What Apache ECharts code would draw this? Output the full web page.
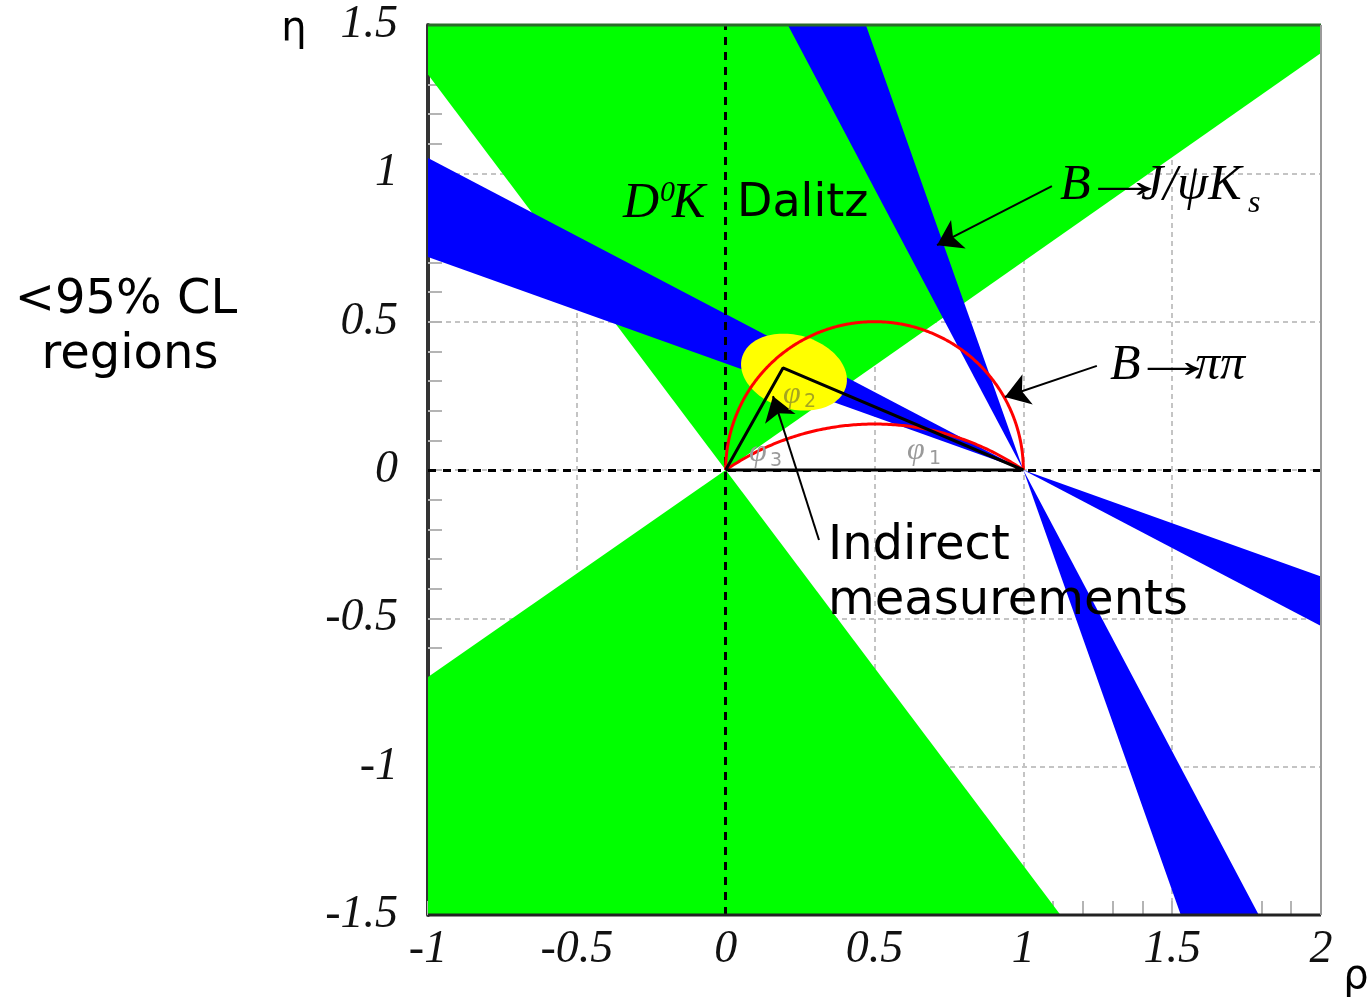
<!DOCTYPE html>
<html><head><meta charset="utf-8">
<script src="https://cdn.jsdelivr.net/npm/echarts@6/dist/echarts.min.js"></script>
<style>html,body{margin:0;padding:0;background:#fff}#c{width:1367px;height:1007px}</style>
</head><body><div id="c"></div><script>
// ---- tick labels ----
const rhoTickLabels = ['-1', '-0.5', '0', '0.5', '1', '1.5', '2'];
const etaTickLabels = ['-1.5', '-1', '-0.5', '0', '0.5', '1', '1.5'];

// ---- D0K Dalitz (phi3) allowed region: wedge corners [rho, eta] ----
const greenUpper = [[0, 0], [-1, 1.333], [-1, 1.5], [2, 1.5], [2, 1.406]];
const greenLower = [[0, 0], [-1, -0.698], [-1, -1.5], [1.125, -1.5]];

// ---- B -> J/psi Ks (sin 2phi1) allowed bands: wedge corners [rho, eta] ----
const blueSteepUp = [[1, 0], [0.209, 1.5], [0.471, 1.5]];
const blueSteepDown = [[1, 0], [1.529, -1.5], [1.791, -1.5]];
const blueShallowLeft = [[1, 0], [-1, 1.052], [-1, 0.718]];
const blueShallowRight = [[1, 0], [2, -0.359], [2, -0.526]];

// ---- Indirect measurements ellipse ----
const ellipseCenter = [0.2295, 0.330];
const ellipseSemiAxes = [0.1815, 0.1245];
const ellipseTiltDeg = -16;

// ---- B -> pi pi (phi2) circles ----
const circleCenters = [[0.5, 0], [0.5, -0.729]];
const circleRadii = [0.5, 0.884];

// ---- unitarity triangle ----
const triangle = [[0, 0], [0.1925, 0.344], [1, 0], [0, 0]];

// ---- zero lines ----
const zeroLineRho = [[0, -1.5], [0, 1.5]];
const zeroLineEta = [[-1, 0], [2, 0]];

// ---- annotation arrows [from, to] ----
const arrowJpsi = [[1.096, 0.957], [0.710, 0.758]];
const arrowPiPi = [[1.247, 0.351], [0.938, 0.246]];
const arrowIndirect = [[0.3135, -0.236], [0.159, 0.249]];

const G = { left: 428, top: 25, width: 893, height: 890 };

function polySeries(polys, color, z) {
  return {
    type: 'custom', coordinateSystem: 'cartesian2d', z: z, silent: true, clip: true,
    data: polys.map(p => p[0]),
    renderItem: function (params, api) {
      const poly = polys[params.dataIndex];
      return { type: 'polygon', shape: { points: poly.map(p => api.coord(p)) }, style: { fill: color } };
    }
  };
}

function ellipseSeries() {
  return {
    type: 'custom', coordinateSystem: 'cartesian2d', z: 4, silent: true, clip: true,
    data: [ellipseCenter],
    renderItem: function (params, api) {
      const pts = [];
      const t = ellipseTiltDeg * Math.PI / 180;
      for (let i = 0; i < 120; i++) {
        const a = i / 120 * 2 * Math.PI;
        const u = ellipseSemiAxes[0] * Math.cos(a), v = ellipseSemiAxes[1] * Math.sin(a);
        pts.push(api.coord([ellipseCenter[0] + u * Math.cos(t) - v * Math.sin(t),
                            ellipseCenter[1] + u * Math.sin(t) + v * Math.cos(t)]));
      }
      return { type: 'polygon', shape: { points: pts }, style: { fill: '#ffff00' } };
    }
  };
}

function circleSeries() {
  return {
    type: 'custom', coordinateSystem: 'cartesian2d', z: 6, silent: true, clip: true,
    data: circleCenters,
    renderItem: function (params, api) {
      const c = circleCenters[params.dataIndex], r = circleRadii[params.dataIndex];
      const pts = [];
      for (let i = 0; i <= 400; i++) {
        const a = i / 400 * Math.PI;
        const p = [c[0] + r * Math.cos(a), c[1] + r * Math.sin(a)];
        if (p[1] >= -1e-9) pts.push(api.coord(p));
      }
      return { type: 'polyline', shape: { points: pts }, style: { stroke: '#ff0000', lineWidth: 3, fill: null } };
    }
  };
}

function arrowSeries(list) {
  return {
    type: 'lines', coordinateSystem: 'cartesian2d', z: 8, silent: true,
    symbol: ['none', 'arrow'], symbolSize: 24,
    lineStyle: { color: '#000', width: 2, opacity: 1 },
    data: list.map(a => ({ coords: a }))
  };
}

const serif = '"Liberation Serif", "Times New Roman", serif';
const sans = '"DejaVu Sans", Verdana, sans-serif';
function txt(text, x, y, font, opts) {
  opts = opts || {};
  return {
    type: 'text', x: x, y: y, z: 100, silent: true, scaleX: opts.scaleX || 1,
    style: { text: text, font: font, fill: opts.fill || '#000',
             textAlign: opts.align || 'left', textVerticalAlign: 'middle' }
  };
}

const tickStyle = { color: '#b4b4b4', width: 2 };
const gridLine = { color: '#c4c4c4', width: 2, type: [5, 4] };

const chart = echarts.init(document.getElementById('c'), null, { renderer: 'canvas' });
chart.setOption({
  animation: false,
  backgroundColor: '#ffffff',
  grid: { left: G.left, top: G.top, width: G.width, height: G.height, containLabel: false },
  xAxis: {
    type: 'value', min: -1, max: 2, interval: 0.5, position: 'bottom',
    axisLine: { show: false, onZero: false },
    axisTick: { show: true, inside: true, length: 14, lineStyle: tickStyle },
    minorTick: { show: true, splitNumber: 5, length: 14, lineStyle: tickStyle },
    splitLine: { show: true, lineStyle: gridLine },
    axisLabel: {
      margin: 12, fontFamily: serif, fontStyle: 'italic', fontSize: 46, color: '#111',
      formatter: v => rhoTickLabels[Math.round((v + 1) / 0.5)]
    }
  },
  yAxis: {
    type: 'value', min: -1.5, max: 1.5, interval: 0.5, position: 'left',
    axisLine: { show: true, onZero: false, lineStyle: { color: '#333', width: 4 } },
    axisTick: { show: true, inside: true, length: 14, lineStyle: tickStyle },
    minorTick: { show: true, splitNumber: 5, length: 14, lineStyle: tickStyle },
    splitLine: { show: true, lineStyle: gridLine },
    axisLabel: {
      margin: 30, fontFamily: serif, fontStyle: 'italic', fontSize: 46, color: '#111',
      formatter: v => etaTickLabels[Math.round((v + 1.5) / 0.5)]
    }
  },
  series: [
    polySeries([greenUpper, greenLower], '#00ff00', 2),
    polySeries([blueSteepUp, blueSteepDown, blueShallowLeft, blueShallowRight], '#0000ff', 3),
    ellipseSeries(),
    {
      type: 'lines', coordinateSystem: 'cartesian2d', z: 5, silent: true, symbol: 'none',
      lineStyle: { color: '#000', width: 3, type: [8, 7], opacity: 1 },
      data: [{ coords: zeroLineRho }, { coords: zeroLineEta }]
    },
    circleSeries(),
    {
      type: 'line', z: 7, silent: true, symbol: 'none', data: triangle,
      lineStyle: { color: '#000', width: 3 }
    },
    arrowSeries([arrowJpsi, arrowPiPi, arrowIndirect])
  ],
  graphic: [
    { type: 'line', z: 90, silent: true, shape: { x1: G.left, y1: G.top + G.height, x2: G.left + G.width, y2: G.top + G.height }, style: { stroke: '#222', lineWidth: 3 } },
    { type: 'line', z: 90, silent: true, shape: { x1: G.left, y1: G.top, x2: G.left + G.width, y2: G.top }, style: { stroke: '#2b6b2b', lineWidth: 3 } },
    { type: 'line', z: 90, silent: true, shape: { x1: G.left + G.width, y1: G.top, x2: G.left + G.width, y2: G.top + G.height }, style: { stroke: '#9a9a9a', lineWidth: 2 } },
    txt('η', 294, 30, '40px ' + sans, { align: 'center' }),
    txt('ρ', 1356, 978, '40px ' + sans, { align: 'center' }),
    txt('<95% CL', 126, 301, '48px ' + sans, { align: 'center' }),
    txt('regions', 130, 356, '48px ' + sans, { align: 'center' }),
    txt('D', 623, 204, 'italic 50px ' + serif),
    txt('0', 660, 193, 'italic 30px ' + serif),
    txt('K', 672, 204, 'italic 50px ' + serif),
    txt('Dalitz', 737, 204, '46px ' + sans),
    txt('B', 1060, 186, 'italic 50px ' + serif),
    txt('→', 1080, 184, '50px ' + serif, { scaleX: 1.8 }),
    txt('J/ψK', 1141, 186, 'italic 50px ' + serif),
    txt('s', 1248, 204, 'italic 32px ' + serif),
    txt('B', 1110, 366, 'italic 50px ' + serif),
    txt('→', 1130, 364, '50px ' + serif, { scaleX: 1.75 }),
    txt('ππ', 1195, 366, 'italic 50px ' + serif),
    txt('Indirect', 828, 547, '48px ' + sans),
    txt('measurements', 828, 602, '48px ' + sans),
    txt('φ', 907, 451, 'italic 32px ' + serif, { fill: '#9a9a9a' }),
    txt('1', 929, 459, '19px ' + sans, { fill: '#9a9a9a' }),
    txt('φ', 749, 453, 'italic 32px ' + serif, { fill: '#9a9a9a' }),
    txt('3', 770, 461, '19px ' + sans, { fill: '#9a9a9a' }),
    txt('φ', 783, 395, 'italic 32px ' + serif, { fill: '#a5a520' }),
    txt('2', 804, 402, '19px ' + sans, { fill: '#a5a520' })
  ]
});
</script></body></html>
